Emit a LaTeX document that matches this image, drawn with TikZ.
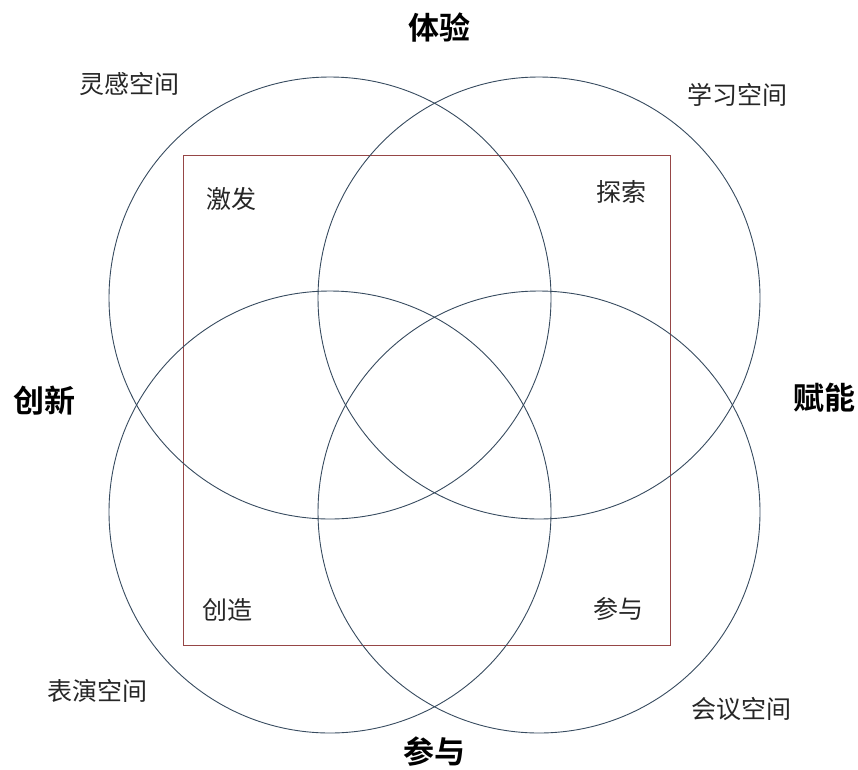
\documentclass[tikz,border=0pt]{standalone}
\usepackage{fontspec}
\newfontfamily\cjk{Noto Sans CJK SC}
\newfontfamily\cjkb{Noto Sans CJK SC}[BoldFont={* Bold}]
\definecolor{ringc}{RGB}{55,75,95}
\definecolor{boxc}{RGB}{150,70,70}
\begin{document}
\begin{tikzpicture}[x=1pt,y=-1pt,
  ring/.style={draw=ringc,line width=0.9pt},
  frame/.style={draw=boxc,line width=0.9pt},
  major/.style={font=\cjkb\fontsize{31}{31}\selectfont\bfseries,text=black,inner sep=0pt},
  minor/.style={font=\cjk\fontsize{25}{25}\selectfont,text=black!85,inner sep=0pt}]
\useasboundingbox (0,0) rectangle (858,769);
\draw[frame] (183,155) rectangle (670,645);
\draw[ring] (330,298) circle (221);
\draw[ring] (539,298) circle (221);
\draw[ring] (330,512) circle (221);
\draw[ring] (539,512) circle (221);
\node[major] (ty) at (439,28) {体验};
\node[major] (cx) at (44,401) {创新};
\node[major] (fn) at (824,398) {赋能};
\node[major] (cy) at (434,752) {参与};
\node[minor] (lg) at (129,84) {灵感空间};
\node[minor] (xx) at (737,95) {学习空间};
\node[minor] (by) at (97,691) {表演空间};
\node[minor] (hy) at (741,709) {会议空间};
\node[minor] (jf) at (231,199) {激发};
\node[minor] (ts) at (621,192) {探索};
\node[minor] (cz) at (227,610) {创造};
\node[minor] (cy2) at (618,609) {参与};
\end{tikzpicture}
\end{document}
